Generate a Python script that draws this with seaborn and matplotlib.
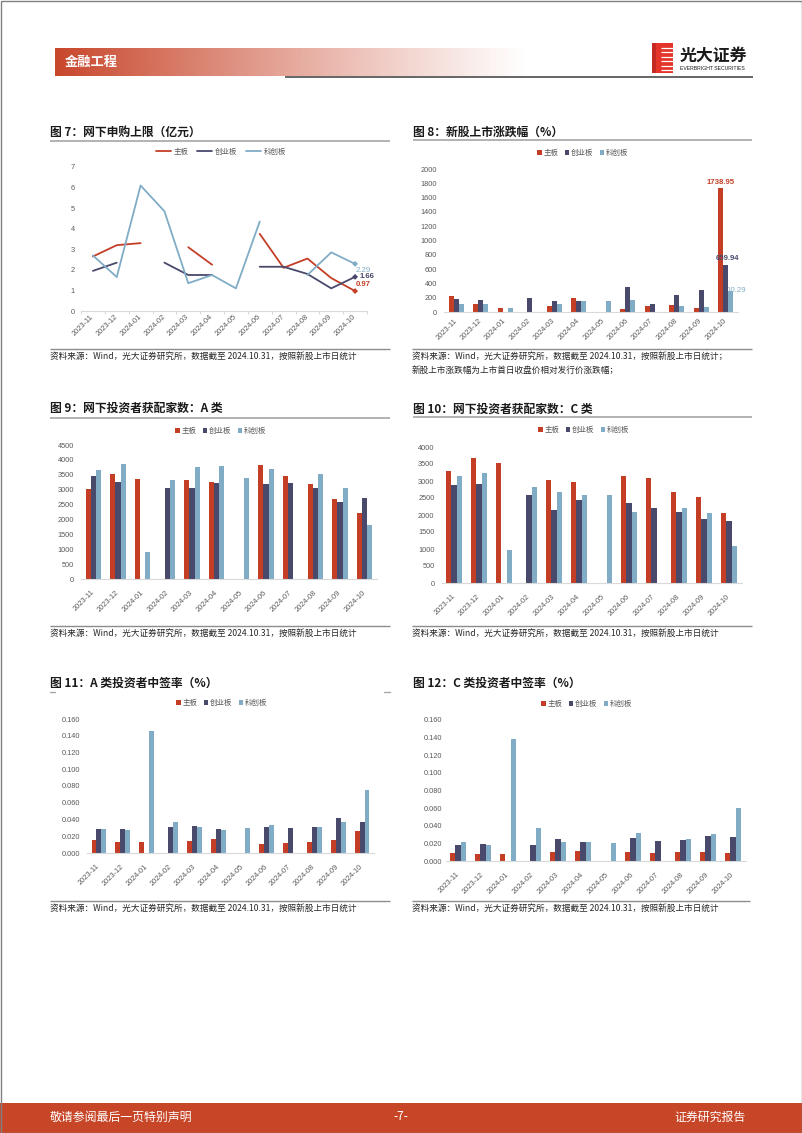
import numpy as np
import pandas as pd
import matplotlib
matplotlib.use('Agg')
import matplotlib.pyplot as plt
import seaborn as sns
from matplotlib.patches import Rectangle, Patch
from matplotlib.lines import Line2D

sns.set_theme(style='white')
plt.rcParams['font.family'] = ['Noto Sans CJK SC', 'DejaVu Sans']
plt.rcParams['axes.unicode_minus'] = False

# ---------------- data ----------------
months = ['2023-11', '2023-12', '2024-01', '2024-02', '2024-03', '2024-04',
          '2024-05', '2024-06', '2024-07', '2024-08', '2024-09', '2024-10']
boards = ['主板', '创业板', '科创板']
colors = ['#C43E26', '#48496B', '#80ACC6']
nan = np.nan

# 图7 网下申购上限（亿元）
limit_main = [2.65, 3.2, 3.3, nan, 3.1, 2.25, nan, 3.75, 2.1, 2.55, 1.6, 0.97]
limit_gem = [1.95, 2.35, nan, 2.35, 1.75, 1.75, nan, 2.15, 2.15, 1.8, 1.1, 1.66]
limit_star = [2.7, 1.65, 6.1, 4.85, 1.35, 1.75, 1.1, 4.35, nan, 1.75, 2.85, 2.29]

# 图8 新股上市涨跌幅（%）
rise_main = [225, 110, 60, nan, 85, 200, nan, 35, 85, 95, 55, 1738.95]
rise_gem = [180, 170, nan, 190, 150, 155, nan, 350, 110, 240, 305, 659.94]
rise_star = [115, 115, 55, nan, 115, 150, 160, 170, nan, 85, 75, 300.29]

# 图9 网下投资者获配家数：A类
a_main = [3030, 3520, 3350, nan, 3320, 3260, nan, 3830, 3450, 3200, 2670, 2200]
a_gem = [3450, 3260, nan, 3060, 3040, 3230, nan, 3190, 3210, 3040, 2600, 2720]
a_star = [3650, 3860, 920, 3340, 3750, 3780, 3390, 3700, nan, 3510, 3070, 1800]

# 图10 网下投资者获配家数：C类
c_main = [3300, 3680, 3520, nan, 3030, 2960, nan, 3150, 3090, 2680, 2520, 2050]
c_gem = [2890, 2910, nan, 2580, 2150, 2450, nan, 2350, 2200, 2090, 1880, 1810]
c_star = [3160, 3240, 970, 2830, 2690, 2600, 2580, 2100, nan, 2200, 2060, 1080]

# 图11 A类投资者中签率（%）
ra_main = [0.016, 0.013, 0.013, nan, 0.014, 0.017, nan, 0.011, 0.012, 0.0135, 0.015, 0.026]
ra_gem = [0.029, 0.029, nan, 0.031, 0.032, 0.029, nan, 0.031, 0.030, 0.031, 0.042, 0.037]
ra_star = [0.029, 0.027, 0.146, 0.037, 0.031, 0.027, 0.030, 0.034, nan, 0.031, 0.037, 0.075]

# 图12 C类投资者中签率（%）
rc_main = [0.009, 0.008, 0.008, nan, 0.010, 0.0115, nan, 0.010, 0.009, 0.010, 0.010, 0.009]
rc_gem = [0.018, 0.019, nan, 0.018, 0.025, 0.021, nan, 0.026, 0.023, 0.024, 0.028, 0.027]
rc_star = [0.021, 0.018, 0.139, 0.037, 0.022, 0.022, 0.020, 0.032, nan, 0.025, 0.031, 0.060]

source_txt = '资料来源：Wind，光大证券研究所，数据截至 2024.10.31，按照新股上市日统计'

# ---------------- figure ----------------
W, H = 802, 1133
fig = plt.figure(figsize=(W / 100, H / 100), dpi=100)
fig.patch.set_facecolor('white')

bg = fig.add_axes([0, 0, 1, 1])
bg.set_zorder(-1)

# header gradient bar
red = np.array([200, 70, 43]) / 255
t = np.linspace(0, 1, 500)
grad = np.zeros((1, 500, 4))
grad[0, :, :3] = red
grad[0, :, 3] = np.clip(1 - t, 0, 1) ** 1.1
bg.imshow(grad, extent=[55, 530, 76, 48], aspect='auto', interpolation='bilinear')
bg.set_xlim(0, W)
bg.set_ylim(H, 0)
bg.axis('off')

bg.text(65, 62, '金融工程', color='white', fontsize=9.5, fontweight='bold', va='center', ha='left')
bg.plot([285, 753], [77, 77], color='#595959', lw=1.3, solid_capstyle='butt')

# logo
bg.add_patch(Rectangle((652, 43), 21, 30, facecolor='#E3352A', edgecolor='none'))
for yy in [47.5, 52, 56.5, 61, 65.5, 70]:
    bg.plot([661, 673], [yy, yy], color='white', lw=0.9, solid_capstyle='butt')
bg.add_patch(Rectangle((652, 43), 4, 30, facecolor='#C42A22', edgecolor='none'))
bg.text(680, 56, '光大证券', fontsize=12.2, fontweight='bold', color='#1A1A1A', va='center', ha='left')
bg.text(680, 68.5, 'EVERBRIGHT SECURITIES', fontsize=3.7, color='#1A1A1A', va='center', ha='left',
        family='Liberation Sans')

# footer
bg.add_patch(Rectangle((0, 1103), W, 30, facecolor='#C84628', edgecolor='none'))
bg.text(50, 1117, '敬请参阅最后一页特别声明', fontsize=8.6, color='white', va='center', ha='left')
bg.text(401, 1117, '-7-', fontsize=8.6, color='white', va='center', ha='center')
bg.text(746, 1117, '证券研究报告', fontsize=8.6, color='white', va='center', ha='right')

# page border
bg.add_patch(Rectangle((0.5, 0.5), W - 1, H - 1, fill=False, edgecolor='#808080', lw=1))


def title(x, y, s, line=None):
    bg.text(x, y, s, fontsize=8.5, fontweight='bold', color='#1A1A1A', ha='left', va='center')
    if line is not None:
        bg.plot([line[0], line[1]], [line[2], line[2]], color='#A6A6A6', lw=1.2, solid_capstyle='butt')


def source(x0, x1, yline, lines):
    bg.plot([x0, x1], [yline, yline], color='#8C8C8C', lw=1.0, solid_capstyle='butt')
    for i, s in enumerate(lines):
        bg.text(x0, yline + 7.5 + i * 14, s, fontsize=6.2, color='#262626', ha='left', va='center')


def make_ax(x0, x1, ytop, ybot):
    ax = fig.add_axes([x0 / W, 1 - ybot / H, (x1 - x0) / W, (ybot - ytop) / H])
    ax.set_facecolor('none')
    for s in ['top', 'right', 'left']:
        ax.spines[s].set_visible(False)
    ax.spines['bottom'].set_color('#D9D9D9')
    ax.spines['bottom'].set_linewidth(0.8)
    return ax


def style_ticks(ax, yticks, ylabels, ypad, xpad):
    ax.set_xlim(-0.5, 11.5)
    ax.set_yticks(yticks)
    ax.set_yticklabels(ylabels, fontsize=5.3, color='#595959', family='Liberation Sans')
    ax.set_xticks(range(12))
    ax.set_xticklabels(months, rotation=45, ha='right', va='center', rotation_mode='anchor',
                       fontsize=5.3, color='#595959', family='Liberation Sans')
    ax.tick_params(axis='y', length=0, pad=ypad)
    ax.tick_params(axis='x', which='major', length=0, pad=xpad)
    ax.set_xlabel('')
    ax.set_ylabel('')


def add_legend(ax, cx, cy, kind='bar'):
    if kind == 'bar':
        handles = [Patch(facecolor=c, edgecolor='none') for c in colors]
        leg = ax.legend(handles, boards, loc='center', bbox_to_anchor=(cx / W, 1 - cy / H),
                        bbox_transform=fig.transFigure, ncol=3, frameon=False, fontsize=5.4,
                        handlelength=0.6, handleheight=0.6, handletextpad=0.25,
                        columnspacing=0.8, borderpad=0, borderaxespad=0)
    else:
        handles = [Line2D([0], [0], color=c, lw=1.3) for c in colors]
        leg = ax.legend(handles, boards, loc='center', bbox_to_anchor=(cx / W, 1 - cy / H),
                        bbox_transform=fig.transFigure, ncol=3, frameon=False, fontsize=5.4,
                        handlelength=2.0, handletextpad=0.4, columnspacing=1.1,
                        borderpad=0, borderaxespad=0)
    for tx in leg.get_texts():
        tx.set_color('#595959')
    return leg


def long_df(series):
    return pd.DataFrame({
        'month': months * 3,
        'x': list(range(12)) * 3,
        'board': [b for b in boards for _ in months],
        'value': list(series[0]) + list(series[1]) + list(series[2]),
    })


def bar_chart(x0, x1, ytop, ybot, series, ylim, yticks, ylabels, ypad, xpad, lcx, lcy):
    ax = make_ax(x0, x1, ytop, ybot)
    df = long_df(series)
    sns.barplot(data=df, x='month', y='value', hue='board', order=months, hue_order=boards,
                palette=colors, width=0.62, errorbar=None, saturation=1, legend=False,
                linewidth=0, ax=ax)
    ax.set_ylim(*ylim)
    style_ticks(ax, yticks, ylabels, ypad, xpad)
    add_legend(ax, lcx, lcy, 'bar')
    return ax


# ---------------- 图7 ----------------
title(50, 132, '图 7：网下申购上限（亿元）', (50, 390, 141))
ax7 = make_ax(81, 367, 167, 311)
df7 = long_df([limit_main, limit_gem, limit_star])
df7['seg'] = df7['board'] + '_' + df7.groupby('board')['value'].transform(
    lambda s: s.isna().cumsum()).astype(str)
df7 = df7.dropna(subset=['value'])
sns.lineplot(data=df7, x='x', y='value', hue='board', hue_order=boards, palette=colors,
             units='seg', estimator=None, lw=1.3, legend=False, ax=ax7)
last7 = df7[df7['x'] == 11]
sns.scatterplot(data=last7, x='x', y='value', hue='board', hue_order=boards, palette=colors,
                marker='D', s=9, linewidth=0, legend=False, ax=ax7)
ax7.set_ylim(0, 7)
style_ticks(ax7, range(0, 8), [str(v) for v in range(0, 8)], 4.3, 3.5)
ax7.set_xticks(np.arange(-0.5, 12, 1), minor=True)
ax7.tick_params(axis='x', which='minor', bottom=True, length=2.5, width=0.8, color='#D9D9D9', direction='out')
add_legend(ax7, 221, 152, 'line')
ax7.annotate(f'{limit_star[-1]:.2f}', (11, limit_star[-1]), xytext=(0.5, -5), textcoords='offset points',
             ha='left', va='center', fontsize=5.6, color=colors[2], family='Liberation Sans')
ax7.annotate(f'{limit_gem[-1]:.2f}', (11, limit_gem[-1]), xytext=(3, 0), textcoords='offset points',
             ha='left', va='center', fontsize=5.6, color=colors[1], fontweight='bold', family='Liberation Sans')
ax7.annotate(f'{limit_main[-1]:.2f}', (11, limit_main[-1]), xytext=(0.5, 5), textcoords='offset points',
             ha='left', va='center', fontsize=5.6, color=colors[0], fontweight='bold', family='Liberation Sans')
source(50, 390, 349, [source_txt])

# ---------------- 图8 ----------------
title(413, 132, '图 8：新股上市涨跌幅（%）', (413, 752, 140))
ax8 = bar_chart(444, 738, 169, 312, [rise_main, rise_gem, rise_star], (0, 2000),
                range(0, 2001, 200), [str(v) for v in range(0, 2001, 200)], 5, 5.5, 583, 153)
label_cfg = [
    (f'{rise_main[-1]:.2f}', 0, 1.5, 'bottom', 'bold', 3),
    (f'{rise_gem[-1]:.2f}', 1.5, 2, 'bottom', 'bold', 3),
    (f'{rise_star[-1]:.2f}', 3, 0, 'center', 'normal', 0.5),
]
for i, cont in enumerate(ax8.containers[:3]):
    p = max(cont.patches, key=lambda r: r.get_x())
    if i == 1:
        for q in cont.patches:
            q.set_zorder(1.5)
    txt, dx, dy, va, fw, z = label_cfg[i]
    ax8.annotate(txt, (p.get_x() + p.get_width() / 2, p.get_height()), xytext=(dx, dy),
                 textcoords='offset points', ha='center', va=va, fontsize=5.6,
                 fontweight=fw, color=colors[i], family='Liberation Sans', zorder=z)
source(412, 752, 349, [source_txt + '；', '新股上市涨跌幅为上市首日收盘价相对发行价涨跌幅；'])

# ---------------- 图9 ----------------
title(50, 408, '图 9：网下投资者获配家数：A 类', (50, 390, 418))
bar_chart(81, 377, 445, 579, [a_main, a_gem, a_star], (0, 4500),
          range(0, 4501, 500), [str(v) for v in range(0, 4501, 500)], 5, 9, 221, 431)
source(50, 390, 626, [source_txt])

# ---------------- 图10 ----------------
title(413, 409, '图 10：网下投资者获配家数：C 类', (413, 752, 417))
bar_chart(441.5, 741.5, 447, 583, [c_main, c_gem, c_star], (0, 4000),
          range(0, 4001, 500), [str(v) for v in range(0, 4001, 500)], 5, 9, 584, 430)
source(412, 752, 626, [source_txt])

# ---------------- 图11 ----------------
title(50, 683, '图 11：A 类投资者中签率（%）')
bg.plot([50, 55], [692, 692], color='#A6A6A6', lw=1.0)
bg.plot([384, 390], [692, 692], color='#A6A6A6', lw=1.0)
rate_ticks = [i * 0.02 for i in range(9)]
rate_labels = [f'{v:.3f}' for v in rate_ticks]
bar_chart(87, 374, 719, 853, [ra_main, ra_gem, ra_star], (0, 0.16),
          rate_ticks, rate_labels, 5, 9, 222, 703)
source(50, 390, 901, [source_txt])

# ---------------- 图12 ----------------
title(413, 683, '图 12：C 类投资者中签率（%）')
bar_chart(445.5, 745.5, 720, 861, [rc_main, rc_gem, rc_star], (0, 0.16),
          rate_ticks, rate_labels, 2.5, 9, 587, 704)
source(412, 750, 901, [source_txt])

fig.savefig('out.png', dpi=100, facecolor='white')
